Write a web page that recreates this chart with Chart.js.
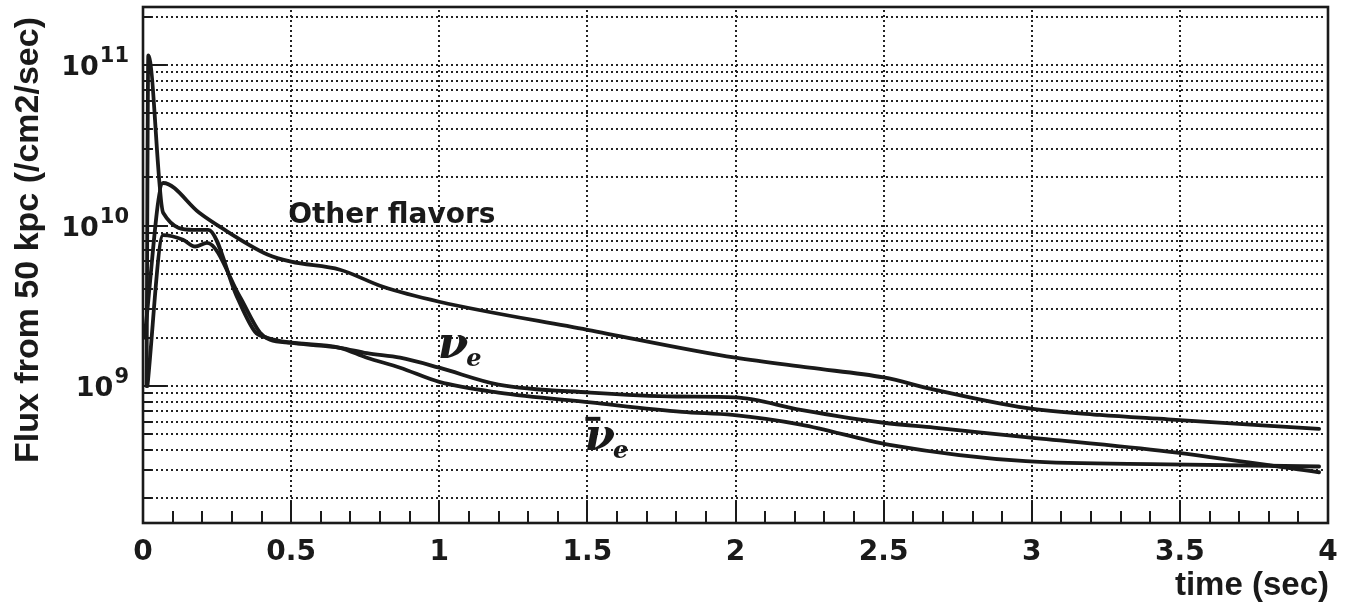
<!DOCTYPE html>
<html>
<head>
<meta charset="utf-8">
<script src="https://cdn.jsdelivr.net/npm/chart.js@4/dist/chart.umd.min.js"></script>
<style>
  html, body { margin: 0; padding: 0; background: #ffffff; }
  canvas { display: block; }
</style>
</head>
<body>
<canvas id="flux" width="1346" height="607"></canvas>
<script>
// Neutrino flux at 50 kpc versus time after core bounce.
// "Other flavors" (nu_mu, nu_tau and their antiparticles, each)
const otherTime = [0.005, 0.068, 0.19, 0.26, 0.42, 0.50, 0.665, 0.81, 1.0, 1.5, 2.0, 2.25, 2.5, 2.67, 2.98, 3.23, 3.46, 3.97];
const otherFlux = [2.0e9, 1.84e10, 1.2e10, 9.8e9, 6.6e9, 5.95e9, 5.3e9, 4.15e9, 3.35e9, 2.24e9, 1.5e9, 1.3e9, 1.13e9, 9.5e8, 7.3e8, 6.6e8, 6.2e8, 5.4e8];

// Electron neutrinos, with the neutronization burst
const nueTime = [0.012, 0.018, 0.068, 0.17, 0.22, 0.317, 0.378, 0.419, 0.50, 0.665, 0.756, 0.868, 1.0, 1.2, 1.51, 1.8, 2.0, 2.22, 2.5, 2.67, 2.98, 3.46, 3.97];
const nueFlux = [1.0e9, 1.15e11, 1.2e10, 9.4e9, 9.4e9, 3.6e9, 2.18e9, 2.0e9, 1.86e9, 1.73e9, 1.6e9, 1.5e9, 1.3e9, 1.02e9, 9.1e8, 8.6e8, 8.5e8, 7.1e8, 5.9e8, 5.5e8, 4.8e8, 3.9e8, 2.9e8];

// Electron antineutrinos
const anueTime = [0.015, 0.068, 0.135, 0.176, 0.216, 0.327, 0.395, 0.429, 0.50, 0.665, 0.756, 0.868, 1.0, 1.2, 1.51, 1.82, 1.99, 2.22, 2.52, 2.98, 3.46, 3.97];
const anueFlux = [1.0e9, 8.7e9, 8.15e9, 7.4e9, 7.8e9, 3.6e9, 2.15e9, 1.94e9, 1.86e9, 1.73e9, 1.5e9, 1.3e9, 1.06e9, 9.1e8, 7.9e8, 6.9e8, 6.6e8, 5.75e8, 4.3e8, 3.4e8, 3.25e8, 3.15e8];

// Axis tick labels
const xTickValues = [0, 0.5, 1, 1.5, 2, 2.5, 3, 3.5, 4];
const xTickLabels = ['0', '0.5', '1', '1.5', '2', '2.5', '3', '3.5', '4'];
const yDecadeExponents = [9, 10, 11];
const yDecadeLabels = ['9', '10', '11'];

// Axis ranges
const timeMin = 0, timeMax = 4;
const fluxMin = 1.4e8, fluxMax = 2.3e11;

const toPoints = (ts, vs) => ts.map((t, i) => ({ x: t, y: vs[i] }));

// Dotted grid values: every 1..9 x 10^n inside the range
const yGridValues = [];
for (let e = 8; e <= 11; e++) {
  for (let m = 1; m <= 9; m++) {
    const v = m * Math.pow(10, e);
    if (v > fluxMin && v < fluxMax) yGridValues.push({ v, major: m === 1 });
  }
}

const INK = '#1a1a1a';

const framePlugin = {
  id: 'framePlugin',
  beforeDatasetsDraw(chart) {
    const { ctx, chartArea: a, scales: { x, y } } = chart;
    ctx.save();
    ctx.strokeStyle = '#222222';
    ctx.lineWidth = 2;
    ctx.lineCap = 'butt';
    ctx.setLineDash([2, 3]);
    for (const g of yGridValues) {
      const py = Math.round(y.getPixelForValue(g.v));
      ctx.beginPath();
      ctx.moveTo(a.left + 3, py);
      ctx.lineTo(a.right - 2, py);
      ctx.stroke();
    }
    for (let i = 1; i < xTickValues.length - 1; i++) {
      const px = Math.round(x.getPixelForValue(xTickValues[i]));
      ctx.beginPath();
      ctx.moveTo(px, a.top + 3);
      ctx.lineTo(px, a.bottom - 2);
      ctx.stroke();
    }
    ctx.restore();
  },
  afterDatasetsDraw(chart) {
    const { ctx, chartArea: a, scales: { x, y } } = chart;
    ctx.save();
    ctx.strokeStyle = INK;
    ctx.setLineDash([]);
    ctx.lineCap = 'butt';

    // inward tick marks on the left axis
    ctx.lineWidth = 2;
    for (const g of yGridValues) {
      const py = Math.round(y.getPixelForValue(g.v));
      ctx.beginPath();
      ctx.moveTo(a.left, py);
      ctx.lineTo(a.left + (g.major ? 23 : 9), py);
      ctx.stroke();
    }
    // inward tick marks on the time axis
    for (let i = 1; i < 40; i++) {
      const px = Math.round(x.getPixelForValue(i / 10));
      ctx.beginPath();
      ctx.moveTo(px, a.bottom);
      ctx.lineTo(px, a.bottom - (i % 5 === 0 ? 22 : 12));
      ctx.stroke();
    }

    // plot frame
    ctx.lineWidth = 2.6;
    ctx.strokeRect(a.left, a.top, a.right - a.left, a.bottom - a.top);
    ctx.restore();
  },
  afterDraw(chart) {
    const { ctx, chartArea: a, scales: { x, y } } = chart;
    ctx.save();
    ctx.fillStyle = INK;

    // time tick labels
    ctx.font = 'bold 28px "DejaVu Sans"';
    ctx.textAlign = 'center';
    ctx.textBaseline = 'alphabetic';
    xTickValues.forEach((v, i) => {
      ctx.fillText(xTickLabels[i], x.getPixelForValue(v), 560);
    });

    // decade labels 10^n
    yDecadeExponents.forEach((e, i) => {
      const py = y.getPixelForValue(Math.pow(10, e));
      ctx.textAlign = 'right';
      ctx.font = 'bold 21px "DejaVu Sans"';
      const expRight = 129;
      ctx.fillText(yDecadeLabels[i], expRight, py - 3);
      const expW = ctx.measureText(yDecadeLabels[i]).width;
      ctx.font = 'bold 27px "DejaVu Sans"';
      ctx.fillText('10', expRight - expW - 1, py + 10);
    });

    // axis titles
    ctx.font = 'bold 33px "Liberation Sans"';
    ctx.textAlign = 'right';
    ctx.fillText('time (sec)', a.right + 1, 595);

    ctx.save();
    ctx.translate(38, 240);
    ctx.rotate(-Math.PI / 2);
    ctx.textAlign = 'center';
    ctx.font = 'bold 34px "Liberation Sans"';
    ctx.fillText('Flux from 50 kpc (/cm2/sec)', 0, 0);
    ctx.restore();

    // curve labels
    ctx.textAlign = 'left';
    ctx.font = 'bold 28px "DejaVu Sans"';
    ctx.fillText('Other flavors', x.getPixelForValue(0.49), y.getPixelForValue(1.04e10));

    const nuX = x.getPixelForValue(0.995);
    const nuY = y.getPixelForValue(1.5e9);
    ctx.font = 'bold italic 44px "DejaVu Serif"';
    ctx.fillText('ν', nuX, nuY);
    let w = ctx.measureText('ν').width;
    ctx.font = 'bold italic 24px "DejaVu Serif"';
    ctx.fillText('e', nuX + w - 2, nuY + 8);

    const anX = x.getPixelForValue(1.49);
    const anY = y.getPixelForValue(4.0e8);
    ctx.font = 'bold italic 44px "DejaVu Serif"';
    ctx.fillText('ν', anX, anY);
    w = ctx.measureText('ν').width;
    ctx.font = 'bold italic 24px "DejaVu Serif"';
    ctx.fillText('e', anX + w - 2, anY + 8);
    ctx.fillRect(anX + 1, anY - 33, 15, 4);

    ctx.restore();
  }
};

const lineStyle = {
  borderColor: INK,
  borderWidth: 3.8,
  pointRadius: 0,
  fill: false,
  cubicInterpolationMode: 'monotone',
  borderJoinStyle: 'round',
  borderCapStyle: 'round'
};

new Chart(document.getElementById('flux'), {
  type: 'line',
  data: {
    datasets: [
      Object.assign({ label: 'Other flavors', data: toPoints(otherTime, otherFlux) }, lineStyle),
      Object.assign({ label: 'νe', data: toPoints(nueTime, nueFlux) }, lineStyle),
      Object.assign({ label: 'anti-νe', data: toPoints(anueTime, anueFlux) }, lineStyle)
    ]
  },
  options: {
    responsive: false,
    animation: false,
    devicePixelRatio: 1,
    layout: { padding: { top: 7, right: 18, left: 0, bottom: 0 } },
    plugins: { legend: { display: false }, tooltip: { enabled: false } },
    scales: {
      x: {
        type: 'linear', min: timeMin, max: timeMax, bounds: 'data',
        grid: { display: false }, border: { display: false }, ticks: { display: false },
        afterFit(s) { s.height = 84; }
      },
      y: {
        type: 'logarithmic', min: fluxMin, max: fluxMax, bounds: 'data',
        grid: { display: false }, border: { display: false }, ticks: { display: false },
        afterFit(s) { s.width = 143; }
      }
    }
  },
  plugins: [framePlugin]
});
</script>
</body>
</html>
